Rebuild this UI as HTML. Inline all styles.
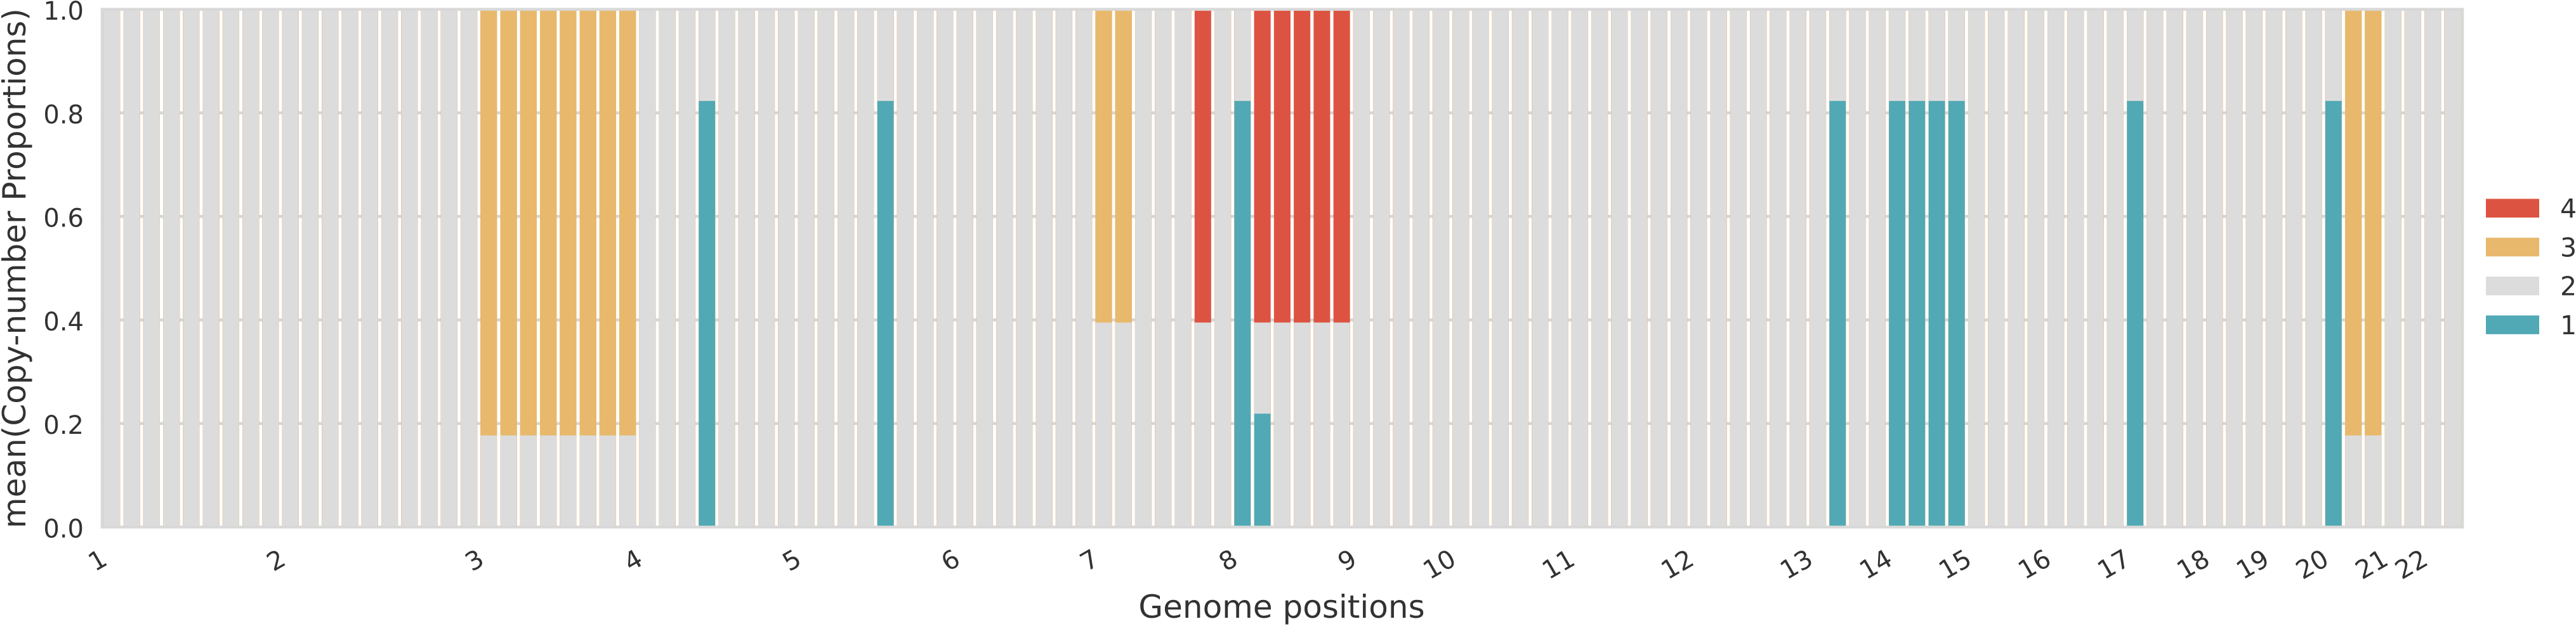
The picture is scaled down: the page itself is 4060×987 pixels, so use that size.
<!DOCTYPE html>
<html lang="en">
<head>
<meta charset="utf-8">
<title>Copy-number proportions by genome position</title>
<style>
  html, body { margin: 0; padding: 0; background: #ffffff; }
  body { width: 4060px; height: 987px; overflow: hidden; }
  svg { display: block; }
  text { font-family: "DejaVu Sans", "Liberation Sans", sans-serif; fill: #323232; }
</style>
</head>
<body>
<svg id="chart" xmlns="http://www.w3.org/2000/svg" width="4060" height="987" viewBox="0 0 4060 987">
  <rect x="0" y="0" width="4060" height="987" fill="#ffffff"></rect>
  <g id="grid"></g>
  <g id="bars"></g>
  <g id="spines"></g>
  <g id="yticks"></g>
  <g id="xticks"></g>
  <text transform="translate(40,423) rotate(-90)" text-anchor="middle" font-size="50">mean(Copy-number Proportions)</text>
  <text x="2020" y="974" text-anchor="middle" font-size="50">Genome positions</text>
  <g id="legend"></g>
</svg>
<script>
// Copy-number proportions for each of the 119 genome bins (rows of ten).
const cn1 = [
  0,0,0,0,0,0,0,0,0,0,
  0,0,0,0,0,0,0,0,0,0,
  0,0,0,0,0,0,0,0,0,0,
  .823,0,0,0,0,0,0,0,0,.823,
  0,0,0,0,0,0,0,0,0,0,
  0,0,0,0,0,0,0,.823,.219,0,
  0,0,0,0,0,0,0,0,0,0,
  0,0,0,0,0,0,0,0,0,0,
  0,0,0,0,0,0,0,.823,0,0,
  .823,.823,.823,.823,0,0,0,0,0,0,
  0,0,.823,0,0,0,0,0,0,0,
  0,0,.823,0,0,0,0,0,0
];
const cn2 = [
  1,1,1,1,1,1,1,1,1,1,
  1,1,1,1,1,1,1,1,1,.177,
  .177,.177,.177,.177,.177,.177,.177,1,1,1,
  .177,1,1,1,1,1,1,1,1,.177,
  1,1,1,1,1,1,1,1,1,1,
  .395,.395,1,1,1,.395,1,.177,.176,.395,
  .395,.395,.395,1,1,1,1,1,1,1,
  1,1,1,1,1,1,1,1,1,1,
  1,1,1,1,1,1,1,.177,1,1,
  .177,.177,.177,.177,1,1,1,1,1,1,
  1,1,.177,1,1,1,1,1,1,1,
  1,1,.177,.177,.177,1,1,1,1
];
const cn3 = [
  0,0,0,0,0,0,0,0,0,0,
  0,0,0,0,0,0,0,0,0,.823,
  .823,.823,.823,.823,.823,.823,.823,0,0,0,
  0,0,0,0,0,0,0,0,0,0,
  0,0,0,0,0,0,0,0,0,0,
  .605,.605,0,0,0,0,0,0,0,0,
  0,0,0,0,0,0,0,0,0,0,
  0,0,0,0,0,0,0,0,0,0,
  0,0,0,0,0,0,0,0,0,0,
  0,0,0,0,0,0,0,0,0,0,
  0,0,0,0,0,0,0,0,0,0,
  0,0,0,.823,.823,0,0,0,0
];
const cn4 = [
  0,0,0,0,0,0,0,0,0,0,
  0,0,0,0,0,0,0,0,0,0,
  0,0,0,0,0,0,0,0,0,0,
  0,0,0,0,0,0,0,0,0,0,
  0,0,0,0,0,0,0,0,0,0,
  0,0,0,0,0,.605,0,0,.605,.605,
  .605,.605,.605,0,0,0,0,0,0,0,
  0,0,0,0,0,0,0,0,0,0,
  0,0,0,0,0,0,0,0,0,0,
  0,0,0,0,0,0,0,0,0,0,
  0,0,0,0,0,0,0,0,0,0,
  0,0,0,0,0,0,0,0,0
];
const legendLabels = ["4", "3", "2", "1"];
const yTickValues = [0, 0.2, 0.4, 0.6, 0.8, 1];
const yTickLabels = ["0.0", "0.2", "0.4", "0.6", "0.8", "1.0"];
const yGridValues = [0.2, 0.4, 0.6, 0.8];
const chromLabels = ["1","2","3","4","5","6","7","8","9","10","11","12","13","14","15","16","17","18","19","20","21","22"];
const chromStartBin = [0,9,19,27,35,43,50,57,63,68,74,80,86,90,94,98,102,106,109,112,115,117];

const NS = "http://www.w3.org/2000/svg";
const COLORS = { "4": "#dc5441", "3": "#e8b96c", "2": "#dcdcdc", "1": "#50a9b4" };
const SPINE = "#d8d8d8";
const GRID = "#d6d6d6";
const PLOT = { left: 161, right: 3881, top: 14.7, bottom: 831 };
const BAR_W = 25.7;
const BAR_STEP = 31.263;
const BAR_X0 = 163.5;

function yScale(v) { return PLOT.bottom - v * (PLOT.bottom - PLOT.top); }
function binLeft(i) { return BAR_X0 + i * BAR_STEP; }
function binCenter(i) { return binLeft(i) + BAR_W / 2; }

const barsG = document.getElementById("bars");
const gridG = document.getElementById("grid");
const spinesG = document.getElementById("spines");
const yG = document.getElementById("yticks");
const xG = document.getElementById("xticks");
const legendG = document.getElementById("legend");

// Grid
yGridValues.forEach(function (v) {
  const line = document.createElementNS(NS, "line");
  
  
  line.setAttribute("x1", PLOT.left);
  line.setAttribute("x2", PLOT.right);
  line.setAttribute("y1", yScale(v));
  line.setAttribute("y2", yScale(v));
  line.setAttribute("stroke", GRID);
  line.setAttribute("stroke-width", 4.6);
  gridG.appendChild(line);
});

// Overlaid cumulative bars: highest copy number is drawn first, lower ones on top.
// The lower layers are slightly wider so the warm edge shows around the grey bars.
const layers = [
  { key: "4", parts: [cn1, cn2, cn3, cn4], bleed: 0.2 },
  { key: "3", parts: [cn1, cn2, cn3], bleed: 0.3 },
  { key: "2", parts: [cn1, cn2], bleed: 0 },
  { key: "1", parts: [cn1], bleed: 0 }
];
layers.forEach(function (layer) {
  cn1.forEach(function (_, i) {
    let total = 0;
    layer.parts.forEach(function (p) { total += p[i]; });
    if (total <= 0) return;
    const rect = document.createElementNS(NS, "rect");
    
    
    rect.setAttribute("x", binLeft(i) - layer.bleed);
    rect.setAttribute("width", BAR_W + 2 * layer.bleed);
    rect.setAttribute("y", yScale(total));
    rect.setAttribute("height", yScale(0) - yScale(total));
    rect.setAttribute("fill", COLORS[layer.key]);
    barsG.appendChild(rect);
  });
});

// Spines
[
  [PLOT.left, PLOT.top, PLOT.left, PLOT.bottom],
  [PLOT.right, PLOT.top, PLOT.right, PLOT.bottom],
  [PLOT.left - 2.3, PLOT.top, PLOT.right + 2.3, PLOT.top],
  [PLOT.left - 2.3, PLOT.bottom, PLOT.right + 2.3, PLOT.bottom]
].forEach(function (s) {
  const line = document.createElementNS(NS, "line");
  
  
  line.setAttribute("x1", s[0]);
  line.setAttribute("y1", s[1]);
  line.setAttribute("x2", s[2]);
  line.setAttribute("y2", s[3]);
  line.setAttribute("stroke", SPINE);
  line.setAttribute("stroke-width", 4.5);
  spinesG.appendChild(line);
});

// Y tick labels
yTickValues.forEach(function (v, i) {
  const t = document.createElementNS(NS, "text");
  
  
  t.setAttribute("x", 132);
  t.setAttribute("y", yScale(v) + 16.5);
  t.setAttribute("text-anchor", "end");
  t.setAttribute("font-size", 40);
  t.textContent = yTickLabels[i];
  yG.appendChild(t);
});

// X tick labels, rotated 30 degrees and right-aligned on the chromosome start bin
const XFS = 40;
const COS30 = Math.cos(Math.PI / 6);
const SIN30 = Math.sin(Math.PI / 6);
chromLabels.forEach(function (label, i) {
  const t = document.createElementNS(NS, "text");
  
  
  t.setAttribute("text-anchor", "middle");
  t.setAttribute("font-size", XFS);
  t.textContent = label;
  xG.appendChild(t);
  const W = t.getComputedTextLength() - 0.13 * XFS;
  const H = 0.73 * XFS;
  const boxW = W * COS30 + H * SIN30;
  const boxH = W * SIN30 + H * COS30;
  const cx = binCenter(chromStartBin[i]) - 7 - boxW / 2;
  const cy = 865 + boxH / 2;
  t.setAttribute("y", 0.365 * XFS);
  t.setAttribute("transform", "translate(" + cx + "," + cy + ") rotate(-30)");
});

// Legend
legendLabels.forEach(function (label, i) {
  const top = 313.5 + i * 61.3;
  const sw = document.createElementNS(NS, "rect");
  
  
  sw.setAttribute("x", 3918);
  sw.setAttribute("y", top);
  sw.setAttribute("width", 84);
  sw.setAttribute("height", 29.5);
  sw.setAttribute("fill", COLORS[label]);
  legendG.appendChild(sw);
  const t = document.createElementNS(NS, "text");
  
  
  t.setAttribute("x", 4035);
  t.setAttribute("y", top + 29.5);
  t.setAttribute("font-size", 41);
  t.textContent = label;
  legendG.appendChild(t);
});
</script>
</body>
</html>
